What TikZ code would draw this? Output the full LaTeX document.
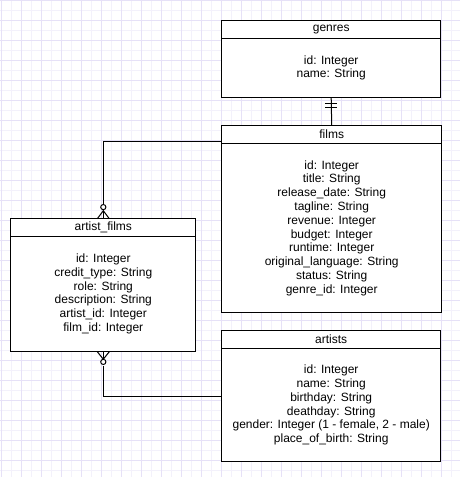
\documentclass[tikz,border=0pt]{standalone}
\usepackage{fontspec}
\setmainfont{Liberation Sans}
\usetikzlibrary{positioning}
\definecolor{gridmajor}{HTML}{E6E1F7}
\definecolor{gridminor}{HTML}{F3F1FB}
\tikzset{
  tablehead/.style={draw,line width=1pt,fill=white,inner sep=0pt,outer sep=0pt,anchor=north,
    font=\fontsize{12}{13.8}\selectfont},
  tablebody/.style={draw,line width=1pt,fill=white,inner sep=0pt,outer sep=0pt,align=center,
    font=\fontsize{12}{13.8}\selectfont},
  relation/.style={line width=1pt},
}
\begin{document}
\begin{tikzpicture}[x=1pt,y=-1pt]
    \useasboundingbox (0,0) rectangle (460,477);
    \fill[white] (0,0) rectangle (460,477);
    \foreach \x in {11,31,...,460} { \draw[gridminor,line width=0.8pt] (\x,0) -- (\x,477); }
    \foreach \y in {10,30,...,477} { \draw[gridminor,line width=0.8pt] (0,\y) -- (460,\y); }
    \foreach \x in {1,21,...,460} { \draw[gridmajor,line width=0.8pt] (\x,0) -- (\x,477); }
    \foreach \y in {0,20,...,477} { \draw[gridmajor,line width=0.8pt] (0,\y) -- (460,\y); }
    % tables
    \node[tablehead,minimum width=219pt,minimum height=17.6pt] (genres) at (331.2,20.7) {genres};
    \node[tablebody,minimum width=219pt,minimum height=59pt,below=0pt of genres] (genres-body)
      {id: Integer\\name: String};
    \node[tablehead,minimum width=220pt,minimum height=18.3pt] (films) at (331.7,125) {films};
    \node[tablebody,minimum width=220pt,minimum height=169.4pt,below=0pt of films] (films-body)
      {id: Integer\\title: String\\release\_date: String\\tagline: String\\revenue: Integer\\
       budget: Integer\\runtime: Integer\\original\_language: String\\status: String\\genre\_id: Integer};
    \node[tablehead,minimum width=185.3pt,minimum height=17.3pt] (afilms) at (103.3,218.7) {artist\_films};
    \node[tablebody,minimum width=185.3pt,minimum height=115.7pt,below=0pt of afilms] (afilms-body)
      {id: Integer\\credit\_type: String\\role: String\\description: String\\artist\_id: Integer\\film\_id: Integer};
    \node[tablehead,minimum width=219pt,minimum height=17.6pt] (artists) at (331.2,330.7) {artists};
    \node[tablebody,minimum width=219pt,minimum height=113.4pt,below=0pt of artists] (artists-body)
      {id: Integer\\name: String\\birthday: String\\deathday: String\\gender: Integer (1 - female, 2 - male)\\place\_of\_birth: String};
    % relations
    \draw[relation] (genres-body.south) -- (films.north);
    \draw[relation] ([xshift=-6pt,yshift=-6.5pt]genres-body.south) -- ++(12pt,0pt);
    \draw[relation] ([xshift=-6pt,yshift=-10.5pt]genres-body.south) -- ++(12pt,0pt);
    \coordinate (top-bend) at ([yshift=2.3pt]films.south west -| afilms.north);
    \draw[relation] ([yshift=2.3pt]films.south west) -- (top-bend) -- ([yshift=14.5pt]afilms.north);
    \draw[relation] ([xshift=-6pt]afilms.north) -- ++(6pt,8pt) -- ([xshift=6pt]afilms.north);
    \draw[relation] (afilms.north) -- ++(0pt,8pt);
    \draw[relation,fill=white] ([yshift=11.6pt]afilms.north) circle (2.6pt);
    \coordinate (bottom-bend) at ([yshift=9pt]artists-body.west -| afilms-body.south);
    \draw[relation] ([yshift=-14.5pt]afilms-body.south) -- (bottom-bend) -- ([yshift=9pt]artists-body.west);
    \draw[relation] ([xshift=-6pt]afilms-body.south) -- ++(6pt,-7.5pt) -- ([xshift=6pt]afilms-body.south);
    \draw[relation] (afilms-body.south) -- ++(0pt,-7.5pt);
    \draw[relation,fill=white] ([yshift=-10.2pt]afilms-body.south) circle (2.6pt);
\end{tikzpicture}
\end{document}
